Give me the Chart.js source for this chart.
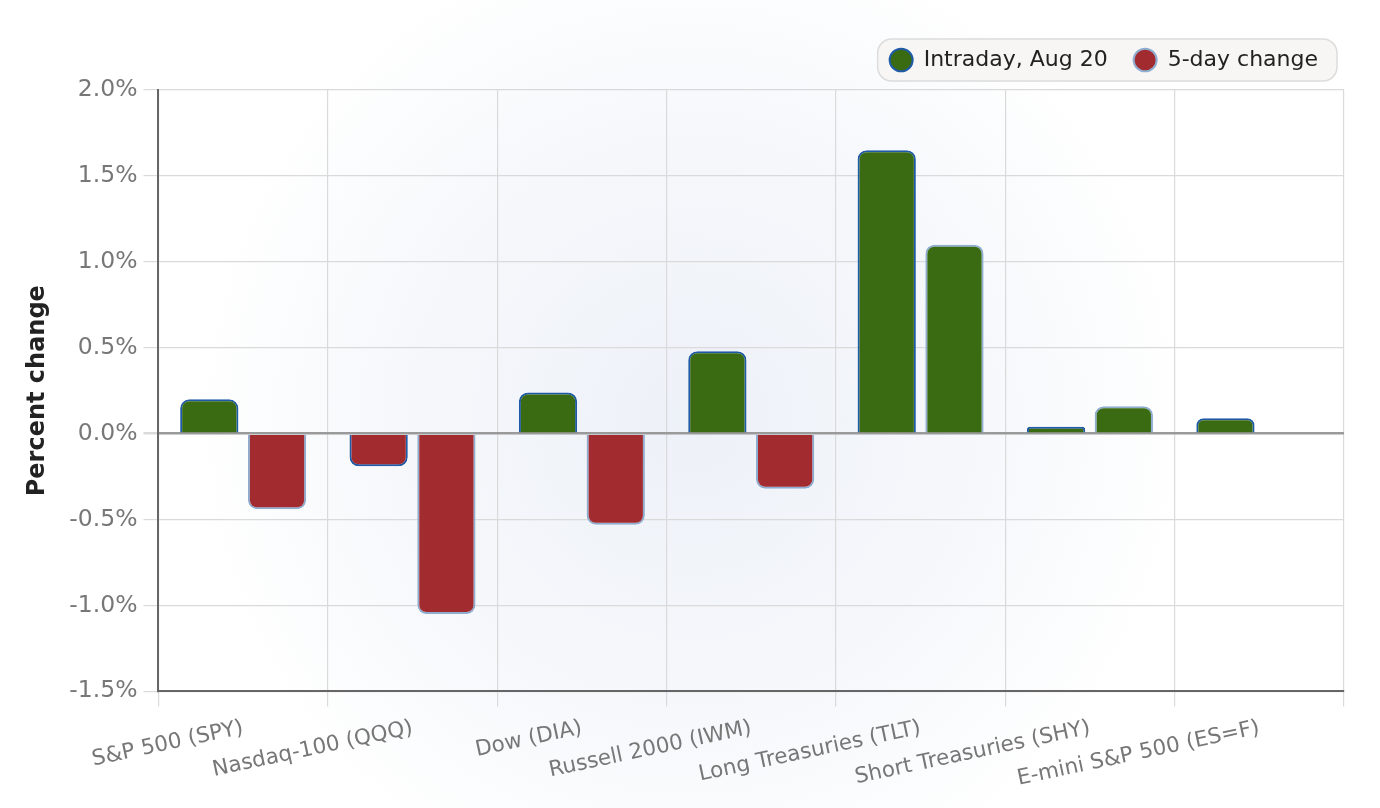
<!DOCTYPE html>
<html lang="en">
<head>
<meta charset="UTF-8">
<title>Percent change</title>
<script src="https://cdn.jsdelivr.net/npm/chart.js"></script>
<style>
  body { margin: 0; background: #fff; }
  #wrap { width: 1380px; height: 808px; position: relative; }
</style>
</head>
<body>
<div id="wrap"><canvas id="changeChart"></canvas></div>
<script>
  // categories and values
  var categories = ['S&P 500 (SPY)', 'Nasdaq-100 (QQQ)', 'Dow (DIA)', 'Russell 2000 (IWM)',
    'Long Treasuries (TLT)', 'Short Treasuries (SHY)', 'E-mini S&P 500 (ES=F)'];
  var seriesNames = ['Intraday, Aug 20', '5-day change'];
  var intraday = [0.20, -0.19, 0.24, 0.48, 1.65, 0.04, 0.09];
  var fiveDay = [-0.44, -1.05, -0.53, -0.32, 1.10, 0.16, null];
  var yMin = -1.5;
  var yMax = 2.0;
  var yStep = 0.5;

  var upColor = '#3a6b12';
  var downColor = '#a12b2e';
  var fontFamily = "'DejaVu Sans', sans-serif";

  // color each bar by its sign
  function signColor(ctx) {
    var v = ctx.raw;
    return (v !== null && v < 0) ? downColor : upColor;
  }

  // soft background and the rounded legend panel
  var backdrop = {
    id: 'backdrop',
    beforeDraw: function (chart) {
      var ctx = chart.ctx;
      var area = chart.chartArea;
      var cx = (area.left + area.right) / 2 - 60;
      var cy = (area.top + area.bottom) / 2 + 30;
      ctx.save();
      var g = ctx.createRadialGradient(cx, cy, 0, cx, cy, 500);
      g.addColorStop(0, '#edf1f8');
      g.addColorStop(0.6, '#f6f8fb');
      g.addColorStop(1, '#ffffff');
      ctx.fillStyle = g;
      ctx.fillRect(0, 0, chart.width, chart.height);

      var boxes = chart.legend.legendHitBoxes;
      if (boxes && boxes.length) {
        var l = boxes[0].left, r = 0, t = boxes[0].top, b = 0;
        boxes.forEach(function (hb) {
          l = Math.min(l, hb.left);
          r = Math.max(r, hb.left + hb.width);
          t = Math.min(t, hb.top);
          b = Math.max(b, hb.top + hb.height);
        });
        l -= 12; r += 19; t -= 10; b += 10;
        ctx.beginPath();
        ctx.roundRect(l, t, r - l, b - t, 14);
        ctx.fillStyle = '#f7f6f4';
        ctx.fill();
        ctx.lineWidth = 1.5;
        ctx.strokeStyle = '#dcdcdc';
        ctx.stroke();
      }
      ctx.restore();
    }
  };

  // a little more room between the legend and the plot
  var legendSpacing = {
    id: 'legendSpacing',
    beforeInit: function (chart) {
      var fitLegend = chart.legend.fit;
      chart.legend.fit = function () {
        fitLegend.bind(chart.legend)();
        this.height += 9;
      };
    }
  };

  var ctx = document.getElementById('changeChart').getContext('2d');
  new Chart(ctx, {
    type: 'bar',
    data: {
      labels: categories,
      datasets: [{
        label: seriesNames[0],
        data: intraday,
        backgroundColor: signColor,
        borderColor: '#1f5aa6',
        borderWidth: 2,
        borderRadius: 9
      }, {
        label: seriesNames[1],
        data: fiveDay,
        backgroundColor: signColor,
        borderColor: '#8eadd0',
        borderWidth: 2,
        borderRadius: 9
      }]
    },
    plugins: [backdrop, legendSpacing],
    options: {
      responsive: true,
      maintainAspectRatio: false,
      animation: false,
      layout: { padding: { top: 23, right: 36, left: 19, bottom: 7 } },
      datasets: { bar: { categoryPercentage: 0.8, barPercentage: 0.86 } },
      plugins: {
        tooltip: { enabled: false },
        legend: {
          position: 'top',
          align: 'end',
          labels: {
            usePointStyle: true,
            pointStyle: 'circle',
            pointStyleWidth: 23,
            boxHeight: 16,
            padding: 26,
            color: '#222',
            font: { family: fontFamily, size: 22 }
          }
        }
      },
      scales: {
        x: {
          grid: {
            color: '#dadada',
            lineWidth: 1.2,
            tickLength: 15,
            tickColor: '#dadada'
          },
          border: { color: '#666', width: 2 },
          ticks: {
            color: '#777',
            minRotation: 12,
            maxRotation: 12,
            autoSkip: false,
            padding: 9,
            font: { family: fontFamily, size: 21.5 }
          }
        },
        y: {
          min: yMin,
          max: yMax,
          grid: {
            color: function (c) { return c.tick && c.tick.value === 0 ? '#9a9a9a' : '#dadada'; },
            lineWidth: function (c) { return c.tick && c.tick.value === 0 ? 2.5 : 1.2; },
            tickLength: 15,
            tickColor: '#dadada'
          },
          border: { color: '#666', width: 2 },
          ticks: {
            stepSize: yStep,
            color: '#777',
            padding: 6,
            font: { family: fontFamily, size: 23.5 },
            callback: function (v) { return v.toFixed(1) + '%'; }
          },
          title: {
            display: true,
            text: 'Percent change',
            color: '#222',
            padding: { top: 4, bottom: 11.5 },
            font: { family: fontFamily, size: 24, weight: 'bold' }
          }
        }
      }
    }
  });
</script>
</body>
</html>
